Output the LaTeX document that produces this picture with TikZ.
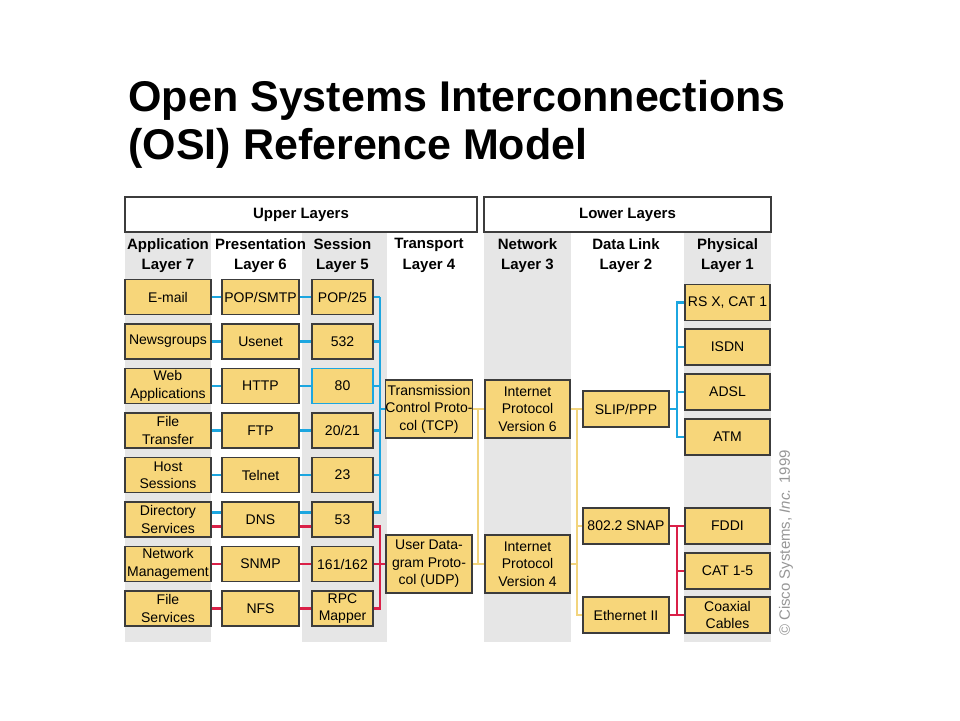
\documentclass[tikz,border=0pt]{standalone}
\usepackage{fontspec}
\setmainfont{Liberation Sans}

\definecolor{boxfill}{RGB}{247,214,122}
\definecolor{boxline}{RGB}{60,60,60}
\definecolor{colgrey}{RGB}{230,230,230}
\definecolor{busblue}{RGB}{28,166,224}
\definecolor{busred}{RGB}{218,32,72}
\definecolor{busyellow}{RGB}{242,212,125}
\definecolor{copygrey}{RGB}{150,150,150}

\begin{document}
\begin{tikzpicture}[x=1pt,y=-1pt,
    layerbox/.style={draw=boxline,line width=1.8pt,fill=white,minimum height=35pt,
      font=\fontsize{15}{18}\selectfont\bfseries},
    header/.style={align=center,font=\fontsize{15}{20.5}\selectfont\bfseries},
    proto/.style={draw=boxline,line width=1.8pt,fill=boxfill,inner sep=0pt,align=center,
      minimum height=35pt,font=\fontsize{14}{17.5}\selectfont},
    appbox/.style={proto,minimum width=86pt},
    presbox/.style={proto,minimum width=77pt},
    sessbox/.style={proto,minimum width=61pt},
    bigbox/.style={proto,minimum width=86pt,minimum height=58pt,font=\fontsize{14}{17.5}\selectfont},
    linkbox/.style={proto,minimum width=86pt,minimum height=36pt},
    physbox/.style={proto,minimum width=85pt,minimum height=36pt},
    blueline/.style={busblue,line width=2.5pt},
    redline/.style={busred,line width=2.5pt},
    yellowline/.style={busyellow,line width=2pt}]
      % \draw[help lines](0,0) grid[step=20] (960,720);

      % Bounding box
      \path (0,0) rectangle (960,720);

      % Title
      \draw (125,111) node[anchor=base west,font=\fontsize{43}{48}\selectfont\bfseries] (title1) {Open Systems Interconnections};
      \draw (125,159) node[anchor=base west,font=\fontsize{43}{48}\selectfont\bfseries] (title2) {(OSI) Reference Model};

      % Grey columns
      \fill[colgrey] (125,232) rectangle (211,642);
      \fill[colgrey] (302,232) rectangle (387,642);
      \fill[colgrey] (484,232) rectangle (571,642);
      \fill[colgrey] (684,232) rectangle (771,642);

      \draw (301,214.5) node[layerbox,minimum width=352pt] (upper) {Upper Layers};
      \draw (627.5,214.5) node[layerbox,minimum width=287pt] (lower) {Lower Layers};

      \draw (168,255.5) node[header] (apphead) {Application\\Layer 7};
      \draw (260.5,255.5) node[header] (preshead) {Presentation\\Layer 6};
      \draw (342.5,255.5) node[header] (sesshead) {Session\\Layer 5};
      \draw (429,255.5) node[header] (transhead) {Transport\\Layer 4};
      \draw (527.5,255.5) node[header] (nethead) {Network\\Layer 3};
      \draw (626,255.5) node[header] (linkhead) {Data Link\\Layer 2};
      \draw (727.5,255.5) node[header] (physhead) {Physical\\Layer 1};

      % Application
      \draw (168,297) node[appbox] (email) {E-mail};
      \draw (168,341.5) node[appbox] (news) {Newsgroups};
      \draw (168,386) node[appbox] (web) {Web\\Applications};
      \draw (168,430.5) node[appbox] (ftransfer) {File\\Transfer};
      \draw (168,475) node[appbox] (host) {Host\\Sessions};
      \draw (168,519.5) node[appbox] (directory) {Directory\\Services};
      \draw (168,564) node[appbox] (netman) {Network\\Management};
      \draw (168,608.5) node[appbox] (fserv) {File\\Services};

      % Presentation
      \draw (260.5,297) node[presbox] (popsmtp) {POP/SMTP};
      \draw (260.5,341.5) node[presbox] (usenet) {Usenet};
      \draw (260.5,386) node[presbox] (http) {HTTP};
      \draw (260.5,430.5) node[presbox] (ftp) {FTP};
      \draw (260.5,475) node[presbox] (telnet) {Telnet};
      \draw (260.5,519.5) node[presbox] (dns) {DNS};
      \draw (260.5,564) node[presbox] (snmp) {SNMP};
      \draw (260.5,608.5) node[presbox] (nfs) {NFS};

      % Session
      \draw (342.5,297) node[sessbox] (pop25) {POP/25};
      \draw (342.5,341.5) node[sessbox] (p532) {532};
      \draw (342.5,386) node[sessbox,draw=busblue,line width=1.2pt] (p80) {80};
      \draw (342.5,430.5) node[sessbox] (p2021) {20/21};
      \draw (342.5,475) node[sessbox] (p23) {23};
      \draw (342.5,519.5) node[sessbox] (p53) {53};
      \draw (342.5,564) node[sessbox] (p161) {161/162};
      \draw (342.5,608.5) node[sessbox] (rpc) {RPC\\Mapper};

      % Transport and network
      \draw (429,409) node[bigbox] (tcp) {Transmission\\Control Proto-\\col (TCP)};
      \draw (429,564) node[bigbox] (udp) {User Data-\\gram Proto-\\col (UDP)};
      \draw (527.5,409) node[bigbox,minimum width=85pt] (ipv6) {Internet\\Protocol\\Version 6};
      \draw (527.5,564) node[bigbox,minimum width=85pt] (ipv4) {Internet\\Protocol\\Version 4};

      % Data link
      \draw (626,409) node[linkbox] (slip) {SLIP/PPP};
      \draw (626,526) node[linkbox] (snap) {802.2 SNAP};
      \draw (626,615) node[linkbox] (ether) {Ethernet II};

      % Physical
      \draw (727.5,302.5) node[physbox] (rsx) {RS X, CAT 1};
      \draw (727.5,347) node[physbox] (isdn) {ISDN};
      \draw (727.5,392) node[physbox] (adsl) {ADSL};
      \draw (727.5,437) node[physbox] (atm) {ATM};
      \draw (727.5,526) node[physbox] (fddi) {FDDI};
      \draw (727.5,571) node[physbox] (cat) {CAT 1-5};
      \draw (727.5,615) node[physbox] (coax) {Coaxial\\Cables};

      \draw (786,543) node[rotate=90,text=copygrey,font=\fontsize{15}{15}\selectfont] (copyright) {© Cisco Systems, \textit{Inc.} 1999};

      % Application to presentation
      \draw [blueline] (email) -- (popsmtp);
      \draw [blueline] (news) -- (usenet);
      \draw [blueline] (web) -- (http);
      \draw [blueline] (ftransfer) -- (ftp);
      \draw [blueline] (host) -- (telnet);
      \draw [blueline] ([yshift=7pt]directory.east) -- ([yshift=7pt]dns.west);
      \draw [redline] ([yshift=-7pt]directory.east) -- ([yshift=-7pt]dns.west);
      \draw [redline] (netman) -- (snmp);
      \draw [redline] (fserv) -- (nfs);

      % Presentation to session
      \draw [blueline] (popsmtp) -- (pop25);
      \draw [blueline] (usenet) -- (p532);
      \draw [blueline] (http) -- (p80);
      \draw [blueline] (ftp) -- (p2021);
      \draw [blueline] (telnet) -- (p23);
      \draw [blueline] ([yshift=7pt]dns.east) -- ([yshift=7pt]p53.west);
      \draw [redline] ([yshift=-7pt]dns.east) -- ([yshift=-7pt]p53.west);
      \draw [redline] (snmp) -- (p161);
      \draw [redline] (nfs) -- (rpc);

      % Session to transport
      \coordinate (tbus) at (380,0);
      \draw [blueline] (pop25.east) -- (pop25.east -| tbus);
      \draw [blueline] (p532.east) -- (p532.east -| tbus);
      \draw [blueline] (p80.east) -- (p80.east -| tbus);
      \draw [blueline] (p2021.east) -- (p2021.east -| tbus);
      \draw [blueline] (p23.east) -- (p23.east -| tbus);
      \draw [blueline] ([yshift=7pt]p53.east) -| (tbus |- pop25.east);
      \draw [blueline] (tbus |- tcp.west) -- (tcp);
      \draw [redline] ([yshift=-7pt]p53.east) -| (tbus |- rpc.east) -- (rpc);
      \draw [redline] (p161) -- (udp);

      % Transport to network
      \coordinate (nbus) at (478,0);
      \draw [yellowline] (tcp) -- (ipv6);
      \draw [yellowline] (udp) -- (ipv4);
      \draw [yellowline] (nbus |- tcp.east) -- (nbus |- udp.east);

      % Network to data link
      \coordinate (lbus) at (577,0);
      \draw [yellowline] (ipv6) -- (slip);
      \draw [yellowline] (ipv4.east) -- (ipv4.east -| lbus);
      \draw [yellowline] (lbus |- slip.west) |- (ether.west);
      \draw [yellowline] (lbus |- snap.west) -- (snap);

      % Data link to physical
      \coordinate (pbus) at (677,0);
      \draw [blueline] (slip.east) -- (slip.east -| pbus);
      \draw [blueline] (rsx.west) -| (pbus |- atm.west) -- (atm);
      \draw [blueline] (pbus |- isdn.west) -- (isdn);
      \draw [blueline] (pbus |- adsl.west) -- (adsl);
      \draw [redline] (snap) -- (fddi);
      \draw [redline] (ether) -- (coax);
      \draw [redline] (fddi.west) -| (pbus |- coax.west);
      \draw [redline] (pbus |- cat.west) -- (cat);
    \end{tikzpicture}
\end{document}
